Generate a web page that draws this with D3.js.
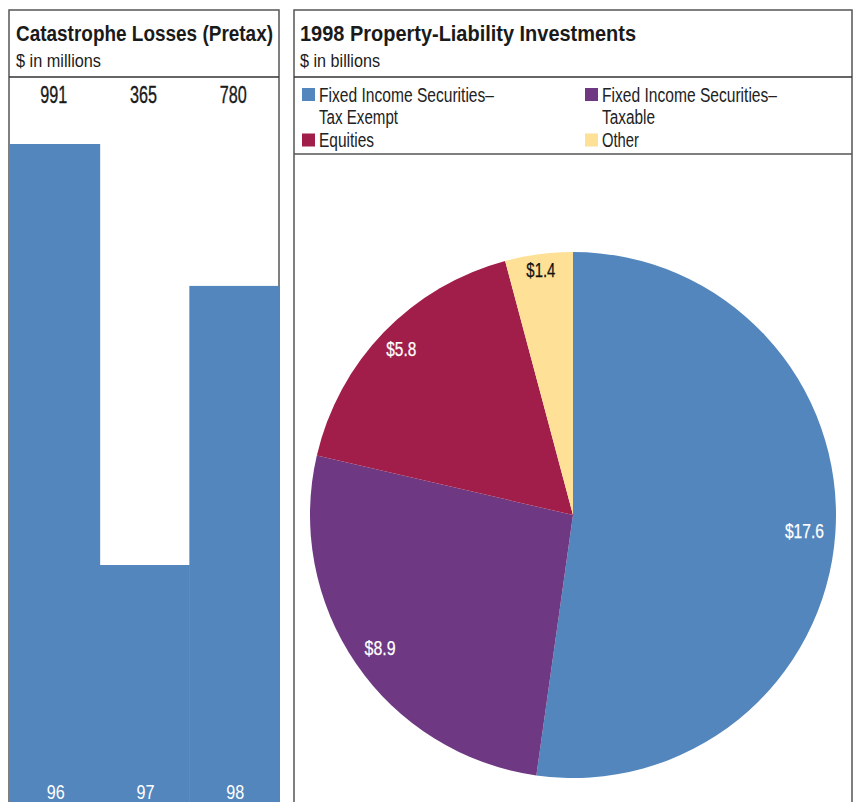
<!DOCTYPE html>
<html><head><meta charset="utf-8">
<script src="https://cdn.jsdelivr.net/npm/d3@7"></script>
<style>
body{margin:0;background:#fff;}
svg{display:block;}
text{font-family:"Liberation Sans","Arimo",Arial,sans-serif;}
</style></head>
<body>
<svg id="c" width="857" height="802"></svg>
<script>
const years = ["96","97","98"];
const losses = [991,365,780];
const pieCategories = ["Fixed Income Securities–\nTax Exempt","Fixed Income Securities–\nTaxable","Equities","Other"];
const pieValues = [17.6,8.9,5.8,1.4];
const pieLabels = ["$17.6","$8.9","$5.8","$1.4"];
const pieColors = ["#5386bd","#6e3882","#a01e49","#fee097"];
const barColor = "#5386bd";

const svg = d3.select("#c");
const ink = "#1a1a1a";

// condensed look: squeeze each text to a narrow width
function narrow(sel, ratio){
  sel.each(function(){
    const w = this.getComputedTextLength();
    d3.select(this).attr("textLength", w*ratio).attr("lengthAdjust","spacingAndGlyphs");
  });
  return sel;
}

// ---- Left panel ----
const L = {x0:9, x1:279, top:10};
svg.append("path").attr("d",`M${L.x0},812V${L.top}H${L.x1}V812`).attr("fill","none").attr("stroke","#555").attr("stroke-width",1.5);
svg.append("line").attr("x1",L.x0).attr("x2",L.x1).attr("y1",77).attr("y2",77).attr("stroke","#333").attr("stroke-width",1.3);
svg.append("text").attr("x",16).attr("y",41).attr("font-size",22).attr("font-weight","bold").attr("fill",ink).text("Catastrophe Losses (Pretax)")
  .attr("textLength",257).attr("lengthAdjust","spacingAndGlyphs");
svg.append("text").attr("x",16).attr("y",67).attr("font-size",17.5).attr("fill",ink).text("$ in millions")
  .attr("textLength",85).attr("lengthAdjust","spacingAndGlyphs");

const xb = d3.scaleBand().domain(years).range([10,279]).padding(0);
const yb = d3.scaleLinear().domain([0,991]).range([810.5,144]);
svg.selectAll("rect.bar").data(years).enter().append("rect").attr("class","bar")
  .attr("x",d=>xb(d)).attr("width",xb.bandwidth()+0.5)
  .attr("y",(d,i)=>yb(losses[i])).attr("height",(d,i)=>yb(0)-yb(losses[i]))
  .attr("fill",barColor);
svg.selectAll("text.val").data(years).enter().append("text").attr("class","val")
  .attr("x",d=>xb(d)+xb.bandwidth()/2-1).attr("y",103).attr("text-anchor","middle")
  .attr("font-size",23).attr("fill",ink).attr("stroke",ink).attr("stroke-width",0.35)
  .attr("textLength",27).attr("lengthAdjust","spacingAndGlyphs").text((d,i)=>losses[i]);
svg.selectAll("text.yr").data(years).enter().append("text").attr("class","yr")
  .attr("x",d=>xb(d)+xb.bandwidth()/2+1).attr("y",799).attr("text-anchor","middle")
  .attr("font-size",20).attr("fill","#fff")
  .attr("textLength",18).attr("lengthAdjust","spacingAndGlyphs").text(d=>d);

// ---- Right panel ----
const R = {x0:294, x1:852, top:10};
svg.append("path").attr("d",`M${R.x0},812V${R.top}H${R.x1}V812`).attr("fill","none").attr("stroke","#555").attr("stroke-width",1.5);
svg.append("line").attr("x1",R.x0).attr("x2",R.x1).attr("y1",77).attr("y2",77).attr("stroke","#333").attr("stroke-width",1.3);
svg.append("line").attr("x1",R.x0).attr("x2",R.x1).attr("y1",154).attr("y2",154).attr("stroke","#555").attr("stroke-width",1.3);
svg.append("text").attr("x",300).attr("y",41).attr("font-size",22).attr("font-weight","bold").attr("fill",ink).text("1998 Property-Liability Investments")
  .attr("textLength",336).attr("lengthAdjust","spacingAndGlyphs");
svg.append("text").attr("x",300).attr("y",67).attr("font-size",17.5).attr("fill",ink).text("$ in billions")
  .attr("textLength",80).attr("lengthAdjust","spacingAndGlyphs");

// legend
const legPos = [[302,88],[585,88],[302,133.5],[585,133.5]];
const legWidths = [[175,79],[175,53],[55],[37]];
pieCategories.forEach((c,i)=>{
  const [lx,ly]=legPos[i];
  svg.append("rect").attr("x",lx).attr("y",ly).attr("width",13).attr("height",13).attr("fill",pieColors[i]);
  const t = svg.append("text").attr("x",lx+17).attr("y",ly+13.5).attr("font-size",19.5).attr("fill","#222");
  c.split("\n").forEach((s,j)=>{
    t.append("tspan").attr("x",lx+17).attr("dy",j?22.5:0)
      .attr("textLength",legWidths[i][j]).attr("lengthAdjust","spacingAndGlyphs").text(s);
  });
});

// pie
const cx=573, cy=515, r=263;
const pie = d3.pie().sort(null).value(d=>d);
const arcs = pie(pieValues);
const arc = d3.arc().innerRadius(0).outerRadius(r);
const g = svg.append("g").attr("transform",`translate(${cx},${cy})`);
g.selectAll("path").data(arcs).enter().append("path").attr("d",arc).attr("fill",(d,i)=>pieColors[i]);
const labelR = [232,234,239,247];
const labelW = [39,31,30,29];
g.selectAll("text").data(arcs).enter().append("text")
  .attr("transform",(d,i)=>{const a=(d.startAngle+d.endAngle)/2; return `translate(${Math.sin(a)*labelR[i]},${-Math.cos(a)*labelR[i]})`;})
  .attr("text-anchor","middle").attr("dy","0.36em").attr("font-size",20)
  .attr("fill",(d,i)=>i===3?"#111":"#fff").attr("stroke",(d,i)=>i===3?"#111":"#fff").attr("stroke-width",0.25)
  .attr("textLength",(d,i)=>labelW[i]).attr("lengthAdjust","spacingAndGlyphs")
  .text((d,i)=>pieLabels[i]);
</script>
</body></html>
